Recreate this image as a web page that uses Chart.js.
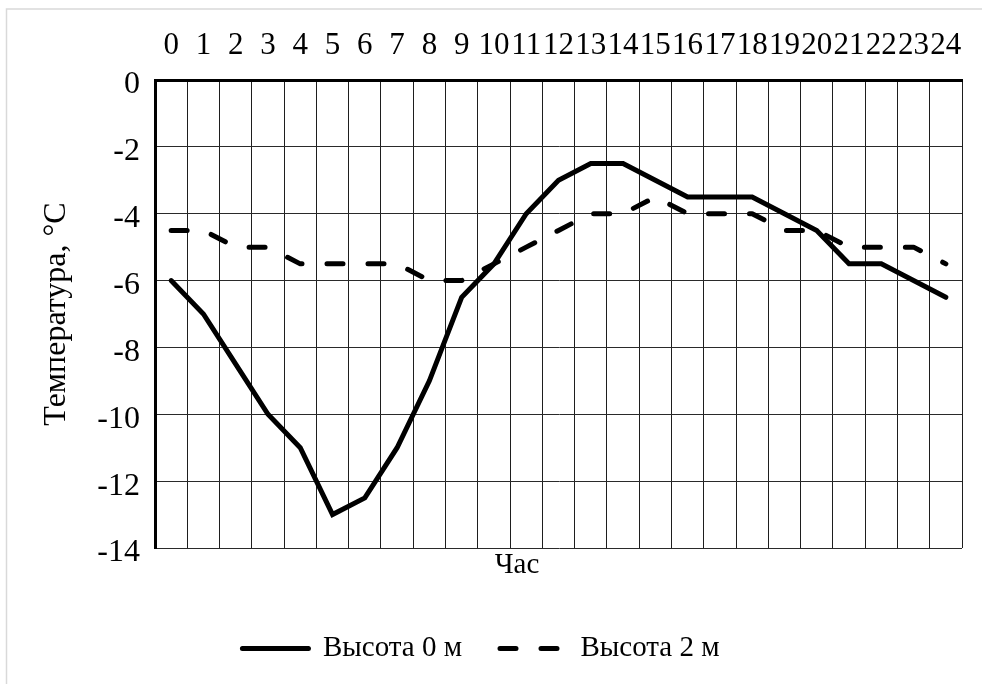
<!DOCTYPE html>
<html lang="ru">
<head>
<meta charset="utf-8">
<title>Температура по часам</title>
<script src="https://cdn.jsdelivr.net/npm/chart.js@4/dist/chart.umd.min.js"></script>
<style>
  html, body { margin: 0; padding: 0; background: #ffffff; }
  #wrap { width: 982px; height: 684px; position: relative; }
  canvas { display: block; }
</style>
</head>
<body>
<div id="wrap"><canvas id="chart" width="982" height="684"></canvas></div>
<script>
// Hours of the day
const hours = ['0','1','2','3','4','5','6','7','8','9','10','11','12','13','14','15','16','17','18','19','20','21','22','23','24'];

// Air temperature, °C, at ground level and at 2 m height
const temp0m = [-6, -7, -8.5, -10, -11, -13, -12.5, -11, -9, -6.5, -5.5, -4, -3, -2.5, -2.5, -3, -3.5, -3.5, -3.5, -4, -4.5, -5.5, -5.5, -6, -6.5];
const temp2m = [-4.5, -4.5, -5, -5, -5.5, -5.5, -5.5, -5.5, -6, -6, -5.5, -5, -4.5, -4, -4, -3.5, -4, -4, -4, -4.5, -4.5, -5, -5, -5, -5.5];

// Value axis range
const yMin = -14;
const yMax = 0;
const yStep = 2;

const seriesNames = ['Высота 0 м', 'Высота 2 м'];
const hourAxisTitle = 'Час';
const tempAxisTitle = 'Температура, °C';

const FONT = "'Liberation Serif', 'Times New Roman', serif";

// White page with a light frame around the chart
const framePlugin = {
  id: 'frame',
  beforeDraw(chart) {
    const ctx = chart.ctx;
    ctx.save();
    ctx.fillStyle = '#ffffff';
    ctx.fillRect(0, 0, chart.width, chart.height);
    ctx.strokeStyle = '#d9d9d9';
    ctx.lineWidth = 1.5;
    ctx.strokeRect(6.5, 9, chart.width + 20, chart.height + 20);
    ctx.restore();
  }
};

// The hour caption sits under the plot, a little left of its middle
const hourTitlePlugin = {
  id: 'hourTitle',
  afterLayout(chart) {
    const s = chart.scales.xTitle;
    const centre = 517;
    const half = (s.right - s.left) / 2;
    s.left = centre - half;
    s.right = centre + half;
  }
};

new Chart(document.getElementById('chart'), {
  type: 'line',
  data: {
    labels: hours,
    datasets: [
      {
        label: seriesNames[0],
        data: temp0m,
        borderColor: '#000000',
        backgroundColor: '#000000',
        borderWidth: 5,
        borderCapStyle: 'round',
        borderJoinStyle: 'miter',
        pointRadius: 0,
        tension: 0,
        xAxisID: 'x',
        yAxisID: 'y'
      },
      {
        label: seriesNames[1],
        data: temp2m,
        borderColor: '#000000',
        backgroundColor: '#000000',
        borderWidth: 5,
        borderDash: [16, 25],
        borderCapStyle: 'round',
        borderJoinStyle: 'round',
        pointRadius: 0,
        tension: 0,
        xAxisID: 'x',
        yAxisID: 'y'
      }
    ]
  },
  options: {
    responsive: false,
    animation: false,
    devicePixelRatio: 1,
    layout: { padding: { left: 0, right: 20, top: 0, bottom: 11 } },
    scales: {
      x: {
        type: 'category',
        position: 'top',
        offset: true,
        grid: { display: true, offset: true, color: '#1e1e1e', lineWidth: 1, drawTicks: false },
        border: { display: true, color: '#000000', width: 3 },
        ticks: {
          color: '#000000',
          font: { family: FONT, size: 31 },
          padding: 16,
          autoSkip: false,
          maxRotation: 0,
          minRotation: 0
        },
        afterFit(scale) { scale.height = 80; }
      },
      xTitle: {
        type: 'category',
        position: 'bottom',
        offset: true,
        grid: { display: false, drawTicks: false },
        border: { display: false },
        ticks: { display: false },
        title: {
          display: true,
          text: hourAxisTitle,
          color: '#000000',
          font: { family: FONT, size: 29 },
          padding: { top: 0, bottom: 13 }
        },
        afterFit(scale) { scale.height = 48; }
      },
      y: {
        type: 'linear',
        position: 'left',
        min: yMin,
        max: yMax,
        grid: { display: true, color: '#2a2a2a', lineWidth: 1, drawTicks: false },
        border: { display: true, color: '#000000', width: 3 },
        ticks: {
          stepSize: yStep,
          color: '#000000',
          font: { family: FONT, size: 32 },
          padding: 15,
          labelOffset: 5
        },
        title: {
          display: true,
          text: tempAxisTitle,
          color: '#000000',
          font: { family: FONT, size: 32 },
          padding: { top: 37, bottom: 0 }
        },
        afterFit(scale) { scale.width = 155; }
      }
    },
    plugins: {
      legend: {
        display: true,
        position: 'bottom',
        labels: {
          color: '#000000',
          font: { family: FONT, size: 29 },
          usePointStyle: true,
          pointStyle: 'line',
          pointStyleWidth: 66,
          boxHeight: 29,
          padding: 38,
          // legend samples repeat each series' own stroke: width, dash, caps
          generateLabels(chart) {
            const items = Chart.defaults.plugins.legend.labels.generateLabels(chart);
            items.forEach(item => {
              const ds = chart.data.datasets[item.datasetIndex];
              item.pointStyle = 'line';
              item.strokeStyle = ds.borderColor;
              item.lineWidth = ds.borderWidth;
              item.lineDash = ds.borderDash || [];
              item.lineCap = ds.borderCapStyle;
            });
            return items;
          }
        }
      },
      tooltip: { enabled: false },
      title: { display: false }
    }
  },
  plugins: [framePlugin, hourTitlePlugin]
});
</script>
</body>
</html>
